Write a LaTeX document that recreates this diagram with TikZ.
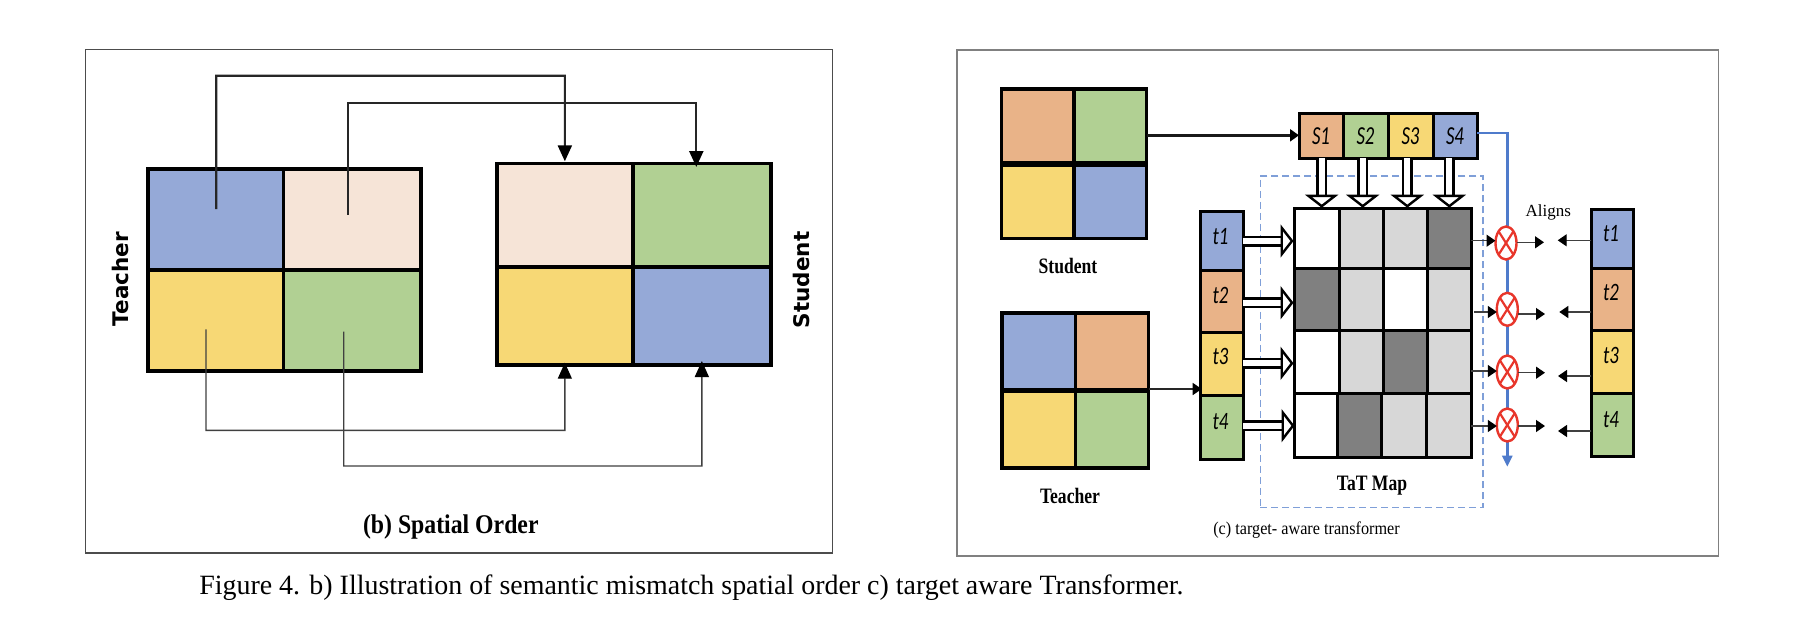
\documentclass[tikz,border=0pt]{standalone}
\usepackage{fontspec}
\setmainfont{Liberation Serif}
\newfontfamily\lblsans{DejaVu Sans}
\newfontfamily\cellfont{Carlito}
\usetikzlibrary{arrows.meta,shapes.geometric,calc}
\definecolor{cblue}{HTML}{95A9D7}
\definecolor{cpeach}{HTML}{F6E4D7}
\definecolor{cyellow}{HTML}{F7D875}
\definecolor{cgreen}{HTML}{B1D093}
\definecolor{corange}{HTML}{E9B388}
\definecolor{cdark}{HTML}{808080}
\definecolor{clight}{HTML}{D7D7D7}
\definecolor{cdash}{HTML}{7F9FD8}
\definecolor{cline}{HTML}{4F7BCB}
\definecolor{cred}{HTML}{E8362B}
\tikzset{
  cellbox/.style={draw=black,rectangle,inner sep=0pt,outer sep=0pt},
  thickconn/.style={draw=black!85,line width=2.2pt},
  thinconn/.style={draw=black!75,line width=1.4pt},
  bighead/.style={-{Triangle[length=16pt,width=14pt,black]}},
  smallhead/.style={-{Triangle[length=9pt,width=12pt,black]}},
  openarrow/.style={double,double distance=6.2pt,line width=2.4pt,-{Triangle[open,fill=white,length=13pt,width=33pt,line width=2.4pt]}},
  multnode/.style={ellipse,draw=cred,fill=white,line width=2.4pt,minimum width=21pt,minimum height=33pt,inner sep=0pt,outer sep=0pt},
  crossline/.style={draw=cred,line width=2.2pt},
  txt/.style={inner sep=0pt,outer sep=0pt,text=black},
  heavyline/.style={draw=black,line width=5.4pt}
}
\newcommand{\gridcell}[7]{%
  \pgfmathsetmacro\cellW{#4-#2}\pgfmathsetmacro\cellH{#5-#3}%
  \node[cellbox,line width=#7,fill=#6,minimum width=\cellW pt,minimum height=\cellH pt] (#1) at ({(#2+#4)/2},{(#3+#5)/2}) {};}
\newcommand{\squeezed}[2]{\scalebox{#1}[1]{#2}}
\begin{document}
\begin{tikzpicture}[x=1pt,y=-1pt]
\useasboundingbox (0,0) rectangle (1800,622);
\fill[white] (0,0) rectangle (1800,622);
% panels
\node[inner sep=0pt,outer sep=0pt,draw=black!70,line width=1.2pt,minimum width=747.4pt,minimum height=503.5pt] (panelL) at (459,301.3) {};
\node[inner sep=0pt,outer sep=0pt,draw=black!50,line width=1.4pt,minimum width=761.7pt,minimum height=506pt] (panelR) at (1337.85,303) {};
% left teacher grid
\gridcell{TA}{147.7}{169}{283.3}{270}{cblue}{3.6pt}
\gridcell{TB}{283.3}{169}{421}{270}{cpeach}{3.6pt}
\gridcell{TC}{147.7}{270}{283.3}{370.7}{cyellow}{3.6pt}
\gridcell{TD}{283.3}{270}{421}{370.7}{cgreen}{3.6pt}
% left student grid
\gridcell{SA}{496.7}{163.3}{633}{266.7}{cpeach}{3.6pt}
\gridcell{SB}{633}{163.3}{770.7}{266.7}{cgreen}{3.6pt}
\gridcell{SC}{496.7}{266.7}{633}{365}{cyellow}{3.6pt}
\gridcell{SD}{633}{266.7}{770.7}{365}{cblue}{3.6pt}
% left connectors
\coordinate (a1) at (216.3,209);\coordinate (a1t) at (216.3,75.7);\coordinate (a1r) at (564.85,75.7);
\coordinate (a2) at (347.7,214.7);\coordinate (a2t) at (347.7,103.3);\coordinate (a2r) at (696.3,103.3);\coordinate (a2e) at (696.3,167);
\coordinate (a3) at (206,329.3);\coordinate (a3b) at (206,430.3);\coordinate (a3r) at (564.85,430.3);
\coordinate (a4) at (343.7,331.7);\coordinate (a4b) at (343.7,466);\coordinate (a4r) at (701.85,466);
\draw[thickconn,bighead,shorten >=2pt] (a1)--(a1t)--(a1r)--(SA.north);
\draw[thickconn,bighead] (a2)--(a2t)--(a2r)--(a2e);
\draw[thinconn,bighead,shorten >=-2.3pt] (a3)--(a3b)--(a3r)--(SC.south);
\draw[thinconn,bighead,shorten >=-4pt] (a4)--(a4b)--(a4r)--(SD.south);
% left labels
\node[txt,rotate=90] (lblT) at (120.7,279) {\lblsans\bfseries\fontsize{21.5}{21.5}\selectfont Teacher};
\node[txt,rotate=90] (lblS) at (801.7,280) {\lblsans\bfseries\fontsize{21.5}{21.5}\selectfont Student};
\node[txt,anchor=base] (capb) at (450.8,533) {\squeezed{.88}{\bfseries\fontsize{27}{27}\selectfont (b) Spatial Order}};
% right student grid
\gridcell{PA}{1001.7}{89}{1074}{164}{corange}{3.2pt}
\gridcell{PB}{1074}{89}{1146.7}{164}{cgreen}{3.2pt}
\gridcell{PC}{1001.7}{164}{1074}{238.5}{cyellow}{3.2pt}
\gridcell{PD}{1074}{164}{1146.7}{238.5}{cblue}{3.2pt}
\draw[heavyline] (PA.south west)--(PB.south east);
\node[txt] (lblPS) at (1068,266) {\squeezed{.8}{\bfseries\fontsize{22}{22}\selectfont Student}};
% right teacher grid
\gridcell{QA}{1002}{313}{1075.7}{390.7}{cblue}{3.2pt}
\gridcell{QB}{1075.7}{313}{1148.7}{390.7}{corange}{3.2pt}
\gridcell{QC}{1002}{390.7}{1075.7}{468}{cyellow}{3.2pt}
\gridcell{QD}{1075.7}{390.7}{1148.7}{468}{cgreen}{3.2pt}
\draw[heavyline] (QA.south west)--(QB.south east);
\node[txt] (lblQT) at (1070,496) {\squeezed{.8}{\bfseries\fontsize{22}{22}\selectfont Teacher}};
% dashed box
\node[inner sep=0pt,outer sep=0pt,draw=cdash,dash pattern=on 7pt off 4pt,line width=1.3pt,minimum width=222.7pt,minimum height=331.7pt] (tatbox) at (1371.65,341.85) {};
% blue line
\coordinate (bl1) at (1507.3,133);\coordinate (bl2) at (1507.3,466.7);
% S row
\gridcell{S1}{1299}{113}{1343}{158}{corange}{3pt}
\gridcell{S2}{1343}{113}{1388}{158}{cgreen}{3pt}
\gridcell{S3}{1388}{113}{1433}{158}{cyellow}{3pt}
\gridcell{S4}{1433}{113}{1477}{158}{cblue}{3pt}
\draw[draw=cline,line width=2.6pt,-{Triangle[length=11pt,width=10pt]}] (S4.east|-bl1)--(bl1)--(bl2);
\foreach \n/\t in {S1/S1,S2/S2,S3/S3,S4/S4}{\node[txt] at ([yshift=-1pt]\n.center) {\squeezed{.72}{\cellfont\itshape\fontsize{26}{26}\selectfont \t}};}
% t column
\gridcell{t1}{1200}{211}{1243}{270}{cblue}{3pt}
\gridcell{t2}{1200}{270}{1243}{332}{corange}{3pt}
\gridcell{t3}{1200}{332}{1243}{395}{cyellow}{3pt}
\gridcell{t4}{1200}{395}{1243}{459}{cgreen}{3pt}
\node[txt] at (1220.5,237) {\squeezed{.75}{\cellfont\itshape\fontsize{25}{25}\selectfont t1}};
\node[txt] at (1220.5,295) {\squeezed{.75}{\cellfont\itshape\fontsize{25}{25}\selectfont t2}};
\node[txt] at (1220.5,356.5) {\squeezed{.75}{\cellfont\itshape\fontsize{25}{25}\selectfont t3}};
\node[txt] at (1220.5,421.5) {\squeezed{.75}{\cellfont\itshape\fontsize{25}{25}\selectfont t4}};
% map
\gridcell{M11}{1294}{208}{1339}{268}{white}{3pt}
\gridcell{M12}{1339}{208}{1383}{268}{clight}{3pt}
\gridcell{M13}{1383}{208}{1427}{268}{clight}{3pt}
\gridcell{M14}{1427}{208}{1471}{268}{cdark}{3pt}
\gridcell{M21}{1294}{268}{1339}{330}{cdark}{3pt}
\gridcell{M22}{1339}{268}{1383}{330}{clight}{3pt}
\gridcell{M23}{1383}{268}{1427}{330}{white}{3pt}
\gridcell{M24}{1427}{268}{1471}{330}{clight}{3pt}
\gridcell{M31}{1294}{330}{1339}{393}{white}{3pt}
\gridcell{M32}{1339}{330}{1383}{393}{clight}{3pt}
\gridcell{M33}{1383}{330}{1427}{393}{cdark}{3pt}
\gridcell{M34}{1427}{330}{1471}{393}{clight}{3pt}
\gridcell{M41}{1294}{393}{1337}{457}{white}{3pt}
\gridcell{M42}{1337}{393}{1381}{457}{cdark}{3pt}
\gridcell{M43}{1381}{393}{1426}{457}{clight}{3pt}
\gridcell{M44}{1426}{393}{1471}{457}{clight}{3pt}
\node[txt] (lblMap) at (1372,486) {\squeezed{.8}{\bfseries\fontsize{22}{22}\selectfont TaT Map}};
\node[txt] (lblC) at (1306.5,530) {\squeezed{.9}{\fontsize{18}{18}\selectfont (c) target- aware transformer}};
% right side column
\gridcell{u1}{1591.3}{209}{1633}{268.3}{cblue}{3pt}
\gridcell{u2}{1591.3}{268.3}{1633}{330.7}{corange}{3pt}
\gridcell{u3}{1591.3}{330.7}{1633}{393.3}{cyellow}{3pt}
\gridcell{u4}{1591.3}{393.3}{1633}{456.7}{cgreen}{3pt}
\node[txt] at (1611,234) {\squeezed{.75}{\cellfont\itshape\fontsize{25}{25}\selectfont t1}};
\node[txt] at (1611,292) {\squeezed{.75}{\cellfont\itshape\fontsize{25}{25}\selectfont t2}};
\node[txt] at (1611,355) {\squeezed{.75}{\cellfont\itshape\fontsize{25}{25}\selectfont t3}};
\node[txt] at (1611,420) {\squeezed{.75}{\cellfont\itshape\fontsize{25}{25}\selectfont t4}};
\node[txt] (lblA) at (1548.3,212) {\fontsize{17}{17}\selectfont Aligns};
% multiply circles
\node[multnode] (x1) at (1506,243) {};
\node[multnode] (x2) at (1507.3,309.3) {};
\node[multnode] (x3) at (1507.3,372) {};
\node[multnode] (x4) at (1507.3,425) {};
\foreach \n in {x1,x2,x3,x4}{
  \draw[crossline] (\n.north west)--(\n.south east);
  \draw[crossline] (\n.north east)--(\n.south west);}
% student/teacher to rows
\draw[draw=black!90,line width=2.6pt,smallhead] (PB.east|-0,135.3)--(S1.west|-0,135.3);
\draw[draw=black!85,line width=1.7pt,smallhead] (QB.east|-0,389)--(1201.7,389);
% double arrows down
\coordinate (d1) at (1321.7,207.7);\coordinate (d2) at (1362.7,207.7);\coordinate (d3) at (1407.3,207.7);\coordinate (d4) at (1449.3,207.7);
\draw[openarrow] (S1.south-|d1)--(d1);
\draw[openarrow] (S2.south-|d2)--(d2);
\draw[openarrow] (S3.south-|d3)--(d3);
\draw[openarrow] (S4.south-|d4)--(d4);
% double arrows right
\coordinate (e1) at (1293.5,241);\coordinate (e2) at (1293.5,302.7);\coordinate (e3) at (1293.5,363.3);\coordinate (e4) at (1294.5,425.7);
\draw[openarrow] (t1.east|-e1)--(e1);
\draw[openarrow] (t2.east|-e2)--(e2);
\draw[openarrow] (t3.east|-e3)--(e3);
\draw[openarrow] (t4.east|-e4)--(e4);
% map to circles
\coordinate (f1) at (1471,240.7);\coordinate (f2) at (1474,312);\coordinate (f3) at (1471,371);\coordinate (f4) at (1471,426);
\draw[thinconn,smallhead] (f1)--(x1.west|-f1);
\draw[thinconn,smallhead] (f2)--(x2.west|-f2);
\draw[thinconn,smallhead] (f3)--(x3.west|-f3);
\draw[thinconn,smallhead] (f4)--(x4.west|-f4);
% circles out
\coordinate (g1) at (1544,242.3);\coordinate (g2) at (1545,314);\coordinate (g3) at (1545,372.7);\coordinate (g4) at (1545,426);
\draw[thinconn,smallhead] (x1.east|-g1)--(g1);
\draw[thinconn,smallhead] (x2.east|-g2)--(g2);
\draw[thinconn,smallhead] (x3.east|-g3)--(g3);
\draw[thinconn,smallhead] (x4.east|-g4)--(g4);
% aligned t arrows
\coordinate (h1) at (1557.7,240.3);\coordinate (h2) at (1559.3,312);\coordinate (h3) at (1558,376);\coordinate (h4) at (1558,431);
\draw[thinconn,smallhead] (u1.west|-h1)--(h1);
\draw[thinconn,smallhead] (u2.west|-h2)--(h2);
\draw[thinconn,smallhead] (u3.west|-h3)--(h3);
\draw[thinconn,smallhead] (u4.west|-h4)--(h4);
% caption
\node[txt,anchor=base west] (caption) at (199.3,594.5) {\fontsize{27.93}{27.93}\selectfont Figure 4. b) Illustration of semantic mismatch spatial order c) target aware Transformer.};
\end{tikzpicture}
\end{document}
